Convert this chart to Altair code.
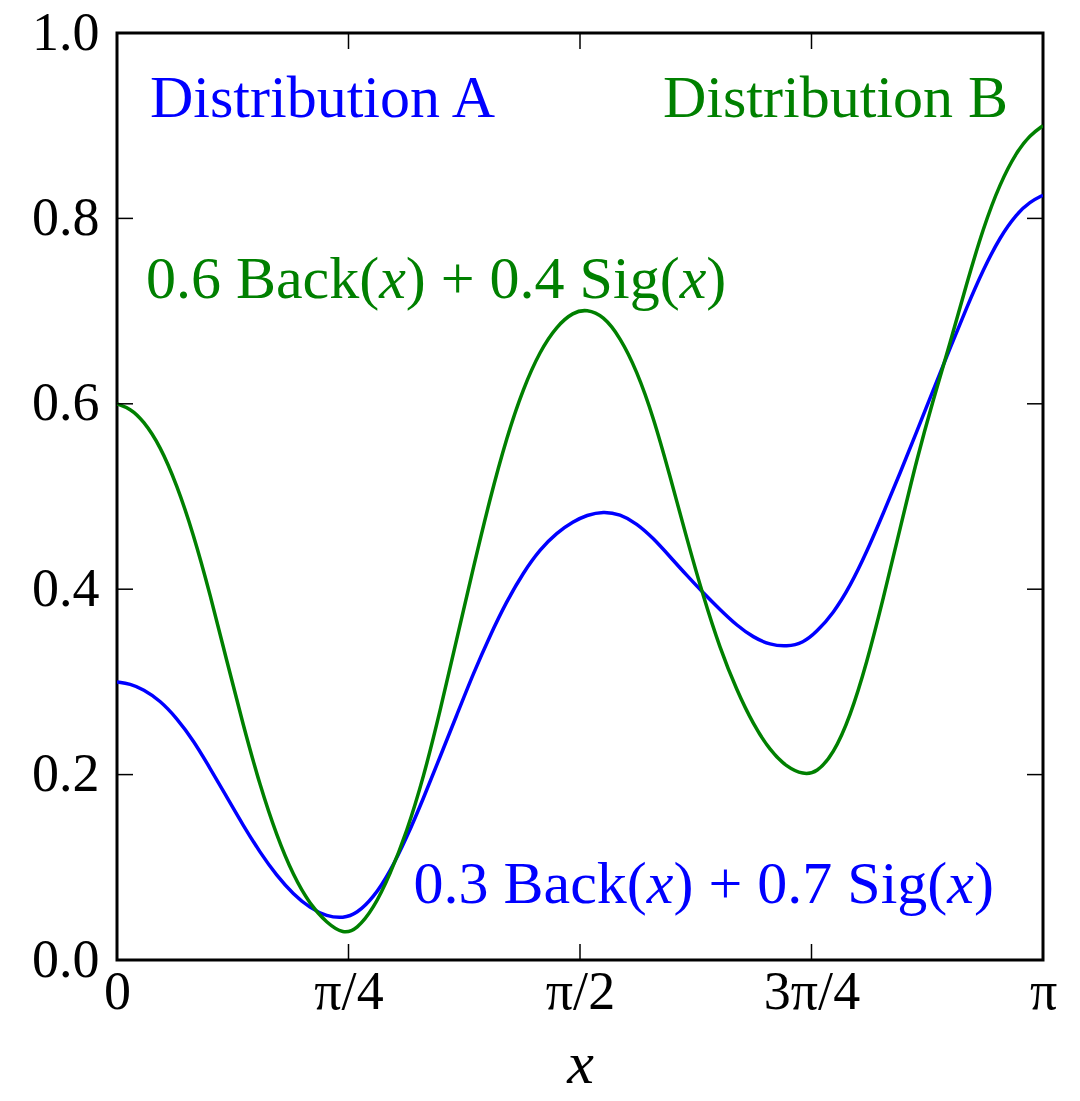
import altair as alt
import pandas as pd
import math

# ---- data ----
x_vals = [0.0, 0.0446, 0.0892, 0.1459, 0.2025, 0.2589, 0.3155, 0.3722, 0.4285, 0.4852, 0.5418,
          0.5981, 0.6548, 0.7115, 0.7678, 0.8132, 0.8696, 0.9262, 0.9829, 1.0392, 1.0958,
          1.1525, 1.2088, 1.2655, 1.3221, 1.3785, 1.4351, 1.4918, 1.5481, 1.5936, 1.6499,
          1.7065, 1.7632, 1.8195, 1.8762, 1.9328, 1.9891, 2.0458, 2.1025, 2.1588, 2.2154,
          2.2721, 2.3284, 2.3739, 2.4302, 2.4869, 2.5435, 2.5999, 2.6565, 2.7132, 2.7695,
          2.8261, 2.8828, 2.9391, 2.9958, 3.0524, 3.0975, 3.1416]

dist_b = [0.600, 0.595, 0.582, 0.555, 0.513, 0.460, 0.395, 0.323, 0.253, 0.188, 0.134,
          0.091, 0.060, 0.040, 0.028, 0.033, 0.055, 0.092, 0.138, 0.196, 0.268,
          0.346, 0.423, 0.498, 0.564, 0.617, 0.657, 0.684, 0.699, 0.702, 0.695,
          0.672, 0.636, 0.586, 0.522, 0.455, 0.392, 0.336, 0.291, 0.254, 0.226,
          0.208, 0.200, 0.202, 0.222, 0.262, 0.320, 0.390, 0.465, 0.540, 0.605,
          0.665, 0.730, 0.790, 0.838, 0.872, 0.890, 0.900]

dist_a = [0.300, 0.298, 0.292, 0.280, 0.261, 0.237, 0.207, 0.176, 0.145, 0.116, 0.091,
          0.071, 0.056, 0.047, 0.045, 0.050, 0.067, 0.095, 0.132, 0.174, 0.219,
          0.264, 0.309, 0.350, 0.387, 0.418, 0.443, 0.461, 0.473, 0.480, 0.484,
          0.481, 0.471, 0.455, 0.435, 0.415, 0.396, 0.378, 0.361, 0.348, 0.340,
          0.338, 0.342, 0.354, 0.374, 0.403, 0.440, 0.482, 0.525, 0.570, 0.615,
          0.660, 0.704, 0.745, 0.780, 0.805, 0.818, 0.825]

x_tick_values = [0, math.pi / 4, math.pi / 2, 3 * math.pi / 4, math.pi]
x_tick_labels = ["0", "π/4", "π/2", "3π/4", "π"]
y_tick_values = [0.0, 0.2, 0.4, 0.6, 0.8, 1.0]

BLUE = "#0000ff"
GREEN = "#008000"
SERIF = "Liberation Serif"
W, H = 926, 927

n = len(x_vals)
df = pd.DataFrame({
    "x": x_vals + x_vals,
    "y": dist_a + dist_b,
    "series": ["A"] * n + ["B"] * n,
})

label_expr = " : ".join(
    f"abs(datum.value - {v}) < 0.01 ? '{t}'" for v, t in zip(x_tick_values, x_tick_labels)
) + " : ''"

xscale = alt.Scale(domain=[0, math.pi], nice=False, zero=False)
yscale = alt.Scale(domain=[0, 1], nice=False)

lines = alt.Chart(df).mark_line(strokeWidth=3.5, interpolate="basis", clip=True).encode(
    x=alt.X("x:Q", scale=xscale,
            axis=alt.Axis(values=x_tick_values, labelExpr=label_expr, title="x",
                          ticks=False, domain=False, grid=False, labelFlush=False,
                          labelOverlap=False, labelPadding=5, labelFont=SERIF,
                          labelFontSize=54, labelColor="black",
                          titleFont=SERIF, titleFontSize=60, titleFontStyle="italic",
                          titleFontWeight="normal", titleColor="black", titlePadding=16)),
    y=alt.Y("y:Q", scale=yscale,
            axis=alt.Axis(values=y_tick_values, format=".1f", title=None,
                          ticks=False, domain=False, grid=False, labelFlush=False,
                          labelOverlap=False, labelPadding=18, labelFont=SERIF,
                          labelFontSize=54, labelColor="black")),
    color=alt.Color("series:N", scale=alt.Scale(domain=["A", "B"], range=[BLUE, GREEN]),
                    legend=None),
)

# inward tick marks on all four sides
ytick_df = pd.DataFrame({"v": y_tick_values[1:-1]})
xtick_df = pd.DataFrame({"v": x_tick_values[1:-1]})
tick_len = 16
left_ticks = alt.Chart(ytick_df).mark_rule(color="black", strokeWidth=1.5).encode(
    y=alt.Y("v:Q", scale=yscale), x=alt.value(0), x2=alt.value(tick_len))
right_ticks = alt.Chart(ytick_df).mark_rule(color="black", strokeWidth=1.5).encode(
    y=alt.Y("v:Q", scale=yscale), x=alt.value(W - tick_len), x2=alt.value(W))
bottom_ticks = alt.Chart(xtick_df).mark_rule(color="black", strokeWidth=1.5).encode(
    x=alt.X("v:Q", scale=xscale), y=alt.value(H - tick_len), y2=alt.value(H))
top_ticks = alt.Chart(xtick_df).mark_rule(color="black", strokeWidth=1.5).encode(
    x=alt.X("v:Q", scale=xscale), y=alt.value(0), y2=alt.value(tick_len))

# annotations
def txt(x, y, text, color, align="left", dx=0, size=58, style="normal"):
    d = pd.DataFrame({"x": [x], "y": [y], "t": [text]})
    return alt.Chart(d).mark_text(align=align, baseline="alphabetic", dx=dx,
                                  font=SERIF, fontSize=size, fontStyle=style,
                                  color=color).encode(
        x=alt.X("x:Q", scale=xscale), y=alt.Y("y:Q", scale=yscale), text="t:N")

annots = [
    txt(0.112, 0.909, "Distribution A", BLUE, size=60),
    txt(3.023, 0.909, "Distribution B", GREEN, align="right", size=60),
]

def formula(x, y, c1, c2, color, size=60):
    em = size / 1000.0
    segs = [
        (f"{c1} Back(", "normal", 0),
        ("x", "italic", 3888),
        (f") + {c2} Sig(", "normal", 3888 + 444),
        ("x", "italic", 3888 + 444 + 4564),
        (")", "normal", 3888 + 444 + 4564 + 444),
    ]
    return [txt(x, y, s, color, dx=off * em, size=size, style=st) for s, st, off in segs]

annots += formula(0.098, 0.714, "0.6", "0.4", GREEN)
annots += formula(1.006, 0.0615, "0.3", "0.7", BLUE)

chart = alt.layer(lines, left_ticks, right_ticks, bottom_ticks, top_ticks, *annots).properties(
    width=W, height=H,
    autosize=alt.AutoSizeParams(type="none"),
    padding={"left": 117, "top": 33, "right": 37, "bottom": 141},
    background="white",
).configure_view(stroke="black", strokeWidth=3)

chart.save("out.html", embed_options={"renderer": "svg", "actions": False})
